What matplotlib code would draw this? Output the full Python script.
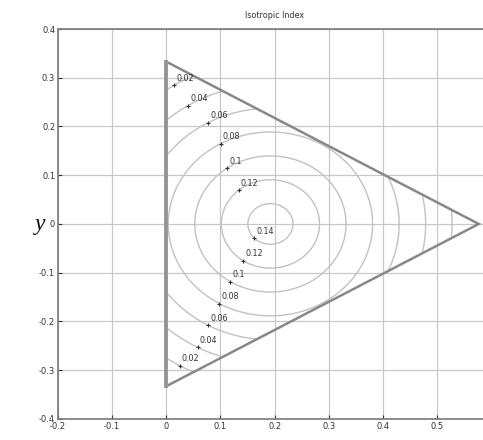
#!/usr/bin/env python3
"""Isotropic index contours over the invariant triangle."""

import matplotlib as mpl

mpl.use("Agg")

import matplotlib.pyplot as plt
import numpy as np
from matplotlib.path import Path

# triangle corners (x, y)
TRI_X = [0.0, 0.0, 0.577]
TRI_Y = [0.333, -0.333, 0.0]

# index peaks at the centroid and falls to zero at the corners
PEAK = 0.157
LEVELS = [0.02, 0.04, 0.06, 0.08, 0.10, 0.12, 0.14]

# label placement angle (deg, about the centroid) for each level
UPPER_LABEL_ANGLES = {0.02: 122, 0.04: 122, 0.06: 119, 0.08: 119, 0.10: 125, 0.12: 130}
LOWER_LABEL_ANGLES = {0.02: 240, 0.04: 242, 0.06: 241, 0.08: 240, 0.10: 238, 0.12: 236, 0.14: 225}

X_TICKS = [-0.2, -0.1, 0, 0.1, 0.2, 0.3, 0.4, 0.5]
Y_TICKS = [-0.4, -0.3, -0.2, -0.1, 0, 0.1, 0.2, 0.3, 0.4]

GRID_COLOR = "#c8c8c8"
LINE_COLOR = "#c2c2c2"
EDGE_COLOR = "#888888"
TEXT_COLOR = "#333333"


def tick_text(v):
    return "0" if abs(v) < 1e-9 else f"{v:g}"


fig = plt.figure(figsize=(4.83, 4.40), dpi=100)
ax = fig.add_axes([0.12, 0.048, 0.897, 0.886])

cx, cy = np.mean(TRI_X), np.mean(TRI_Y)
radius = np.hypot(TRI_X[0] - cx, TRI_Y[0] - cy)

xs = np.linspace(-0.01, 0.6, 700)
ys = np.linspace(-0.35, 0.35, 700)
gx, gy = np.meshgrid(xs, ys)
tri = Path(np.column_stack([TRI_X, TRI_Y]))
inside = tri.contains_points(np.column_stack([gx.ravel(), gy.ravel()]), radius=1e-3).reshape(gx.shape)
field = PEAK * (1.0 - np.hypot(gx - cx, gy - cy) / radius)
field = np.ma.masked_where(~inside, field)

ax.contour(gx, gy, field, levels=LEVELS, colors=LINE_COLOR, linewidths=1.0)

# triangle outline, the straight left side a little heavier
ax.plot([TRI_X[0], TRI_X[2], TRI_X[1]], [TRI_Y[0], TRI_Y[2], TRI_Y[1]],
        color=EDGE_COLOR, lw=1.8, solid_joinstyle="miter")
ax.plot([TRI_X[0], TRI_X[1]], [TRI_Y[0], TRI_Y[1]], color="#959595", lw=2.8)

for angles in (UPPER_LABEL_ANGLES, LOWER_LABEL_ANGLES):
    for level, ang in angles.items():
        r = radius * (1.0 - level / PEAK)
        px = cx + r * np.cos(np.radians(ang))
        py = cy + r * np.sin(np.radians(ang))
        ax.plot(px, py, marker="+", ms=3, mew=0.8, color=TEXT_COLOR)
        ax.annotate(f"{level:g}", (px, py), xytext=(1.5, 5), textcoords="offset points",
                    ha="left", va="center", fontsize=5.8, color=TEXT_COLOR)

ax.set_xlim(-0.2, 0.6)
ax.set_ylim(-0.4, 0.4)
ax.set_xticks(X_TICKS)
ax.set_yticks(Y_TICKS)
ax.set_xticklabels([tick_text(v) for v in X_TICKS])
ax.set_yticklabels([tick_text(v) for v in Y_TICKS])
ax.tick_params(direction="in", length=3, width=0.8, labelsize=6, colors=TEXT_COLOR, pad=2)
ax.grid(True, color=GRID_COLOR, lw=0.9)
ax.set_axisbelow(True)
for spine in ax.spines.values():
    spine.set_color("#7a7a7a")
    spine.set_linewidth(1.2)

ax.set_title("Isotropic Index", fontsize=5.8, color=TEXT_COLOR, pad=8)
fig.text(0.083, 0.49, "y", fontsize=17, style="italic", family="Liberation Serif",
         ha="center", va="center", color="#111111")

fig.savefig("out.png", dpi=100)
